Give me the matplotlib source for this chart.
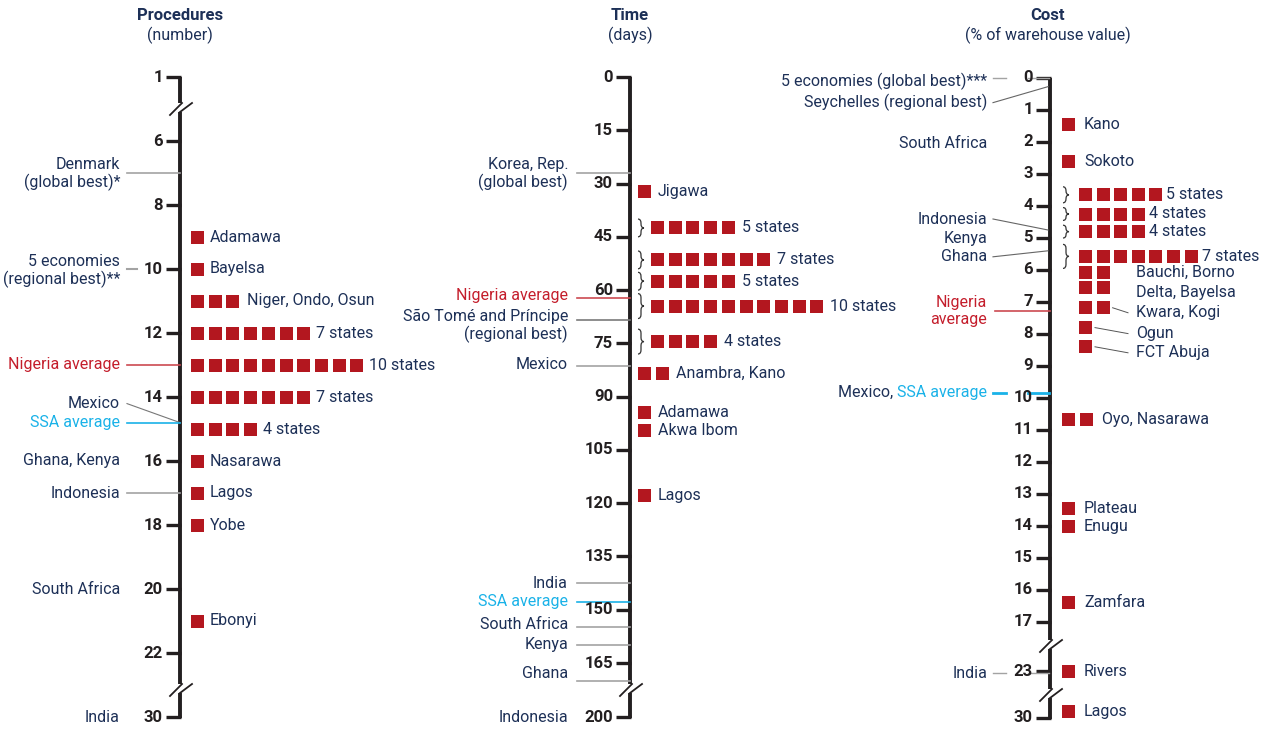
import matplotlib
matplotlib.use("Agg")
import matplotlib.pyplot as plt
from matplotlib.patches import Rectangle, PathPatch
from matplotlib.path import Path
from matplotlib import font_manager

names = {f.name for f in font_manager.fontManager.ttflist}
FONT = next(n for n in ["Liberation Sans Narrow", "Roboto", "Open Sans", "DejaVu Sans"] if n in names)
plt.rcParams['font.family'] = [FONT, 'DejaVu Sans']

# ---------------- data ----------------
# Procedures (number)
proc_ticks = [1, 6, 8, 10, 12, 14, 16, 18, 20, 22, 30]
proc_state_labels = ["Adamawa", "Bayelsa", "Niger, Ondo, Osun", "7 states", "10 states",
                     "7 states", "4 states", "Nasarawa", "Lagos", "Yobe", "Ebonyi"]
proc_state_values = [9, 10, 11, 12, 13, 14, 15, 16, 17, 18, 21]
proc_state_counts = [1, 1, 3, 7, 10, 7, 4, 1, 1, 1, 1]
proc_comp_labels = ["Denmark\n(global best)*", "5 economies\n(regional best)**", "Nigeria average",
                    "Mexico", "SSA average", "Ghana, Kenya", "Indonesia", "South Africa", "India"]
proc_comp_values = [7, 10, 13, 14.8, 14.8, 16, 17, 20, 30]

# Time (days)
time_ticks = [0, 15, 30, 45, 60, 75, 90, 105, 120, 135, 150, 165, 200]
time_state_labels = ["Jigawa", "5 states", "7 states", "5 states", "10 states", "4 states",
                     "Anambra, Kano", "Adamawa", "Akwa Ibom", "Lagos"]
time_state_low = [32.3, 40, 49, 55, 61, 71, 83.4, 94.4, 99.6, 117.8]
time_state_high = [32.3, 45, 54, 60, 68, 78, 83.4, 94.4, 99.6, 117.8]
time_state_counts = [1, 5, 7, 5, 10, 4, 2, 1, 1, 1]
time_comp_labels = ["Korea, Rep.\n(global best)", "Nigeria average", "São Tomé and Príncipe\n(regional best)",
                    "Mexico", "India", "SSA average", "South Africa", "Kenya", "Ghana", "Indonesia"]
time_comp_values = [27, 62.1, 68.4, 81.5, 142.6, 147.7, 154.9, 159.8, 170, 200]

# Cost (% of warehouse value)
cost_ticks = [0, 1, 2, 3, 4, 5, 6, 7, 8, 9, 10, 11, 12, 13, 14, 15, 16, 17, 23, 30]
cost_state_labels = ["Kano", "Sokoto", "5 states", "4 states", "4 states", "7 states",
                     "Bauchi, Borno", "Delta, Bayelsa", "Kwara, Kogi", "Ogun", "FCT Abuja",
                     "Oyo, Nasarawa", "Plateau", "Enugu", "Zamfara", "Rivers", "Lagos"]
cost_state_low = [1.44, 2.6, 3.4, 4.05, 4.6, 5.2, 6.07, 6.56, 7.18, 7.8, 8.4, 10.66, 13.45, 14.0, 16.4, 23.0, 29.1]
cost_state_high = [1.44, 2.6, 3.9, 4.45, 5.0, 5.95, 6.07, 6.56, 7.18, 7.8, 8.4, 10.66, 13.45, 14.0, 16.4, 23.0, 29.1]
cost_state_counts = [1, 1, 5, 4, 4, 7, 2, 2, 2, 1, 1, 2, 1, 1, 1, 1, 1]
cost_comp_labels = ["5 economies (global best)***", "Seychelles (regional best)", "South Africa",
                    "Indonesia", "Kenya", "Ghana", "Nigeria\naverage", "SSA average", "India"]
cost_comp_values = [0, 0.27, 2, 4.75, 5, 5.4, 7.27, 9.83, 23.3]

# ---------------- style ----------------
NAVY = '#1d3057'
TICKC = '#231f20'
RED = '#c41e2c'
REDLINE = '#cc4a52'
CYAN = '#1ab2e8'
GRAY = '#a3a3a3'
SQ = '#b3171f'
FS = 11.5
TFS = 12

fig = plt.figure(figsize=(12.67, 7.30), dpi=100)
ax = fig.add_axes([0, 0, 1, 1])
ax.set_xlim(0, 1267)
ax.set_ylim(730, 0)
ax.axis('off')


def make_scale(pieces):
    def f(v):
        for v0, y0, v1, y1 in pieces:
            if v0 <= v <= v1:
                return y0 if v1 == v0 else y0 + (v - v0) * (y1 - y0) / (v1 - v0)
        lin = [p for p in pieces if p[2] > p[0]]
        v0, y0, v1, y1 = min(lin, key=lambda p: min(abs(v - p[0]), abs(v - p[2])))
        return y0 + (v - v0) * (y1 - y0) / (v1 - v0)
    return f


def draw_axis(x, segs, breaks, ticks, scale):
    for ya, yb in segs:
        ax.plot([x, x], [ya, yb], color=TICKC, lw=2.8, solid_capstyle='butt')
    for yb in breaks:
        ax.plot([x - 10, x + 2], [yb + 7, yb - 5], color=TICKC, lw=1.3)
        ax.plot([x, x + 12], [yb + 4, yb - 5], color=TICKC, lw=1.3)
    for t in ticks:
        y = scale(t)
        ax.plot([x - 14, x + 1], [y, y], color=TICKC, lw=2.4, solid_capstyle='butt')
        ax.text(x - 17, y, str(t), ha='right', va='center', fontsize=TFS,
                fontweight='bold', color=TICKC)


def brace(x, y0, y1, w=6):
    ym = (y0 + y1) / 2
    r = min(4, (y1 - y0) / 4)
    verts = [(x, y0), (x + w / 2, y0), (x + w / 2, y0 + r),
             (x + w / 2, ym - r), (x + w / 2, ym), (x + w, ym),
             (x + w / 2, ym), (x + w / 2, ym + r),
             (x + w / 2, y1 - r), (x + w / 2, y1), (x, y1)]
    codes = [Path.MOVETO, Path.CURVE3, Path.CURVE3, Path.LINETO, Path.CURVE3, Path.CURVE3,
             Path.CURVE3, Path.CURVE3, Path.LINETO, Path.CURVE3, Path.CURVE3]
    ax.add_patch(PathPatch(Path(verts, codes), fill=False, ec='#333333', lw=0.9))


def squares(x0, y, n, size=13, step=17.7):
    for i in range(n):
        ax.add_patch(Rectangle((x0 + i * step, y - size / 2), size, size, fc=SQ, ec='none'))
    return x0 + (n - 1) * step + size


def title(x, t1, t2):
    ax.text(x, 15, t1, ha='center', va='center', fontsize=TFS, fontweight='bold', color=NAVY)
    ax.text(x, 35, t2, ha='center', va='center', fontsize=FS, color=NAVY)


# ================= Procedures =================
PX = 180
ps = make_scale([(1, 77, 1, 77), (6, 141, 22, 653), (30, 717, 30, 717)])
title(PX, "Procedures", "(number)")
draw_axis(PX, [(77, 103), (112, 684), (693, 718)], [108, 689], proc_ticks, ps)
for lab, v, n in zip(proc_state_labels, proc_state_values, proc_state_counts):
    y = ps(v)
    end = squares(PX + 11, y, n)
    ax.text(end + (8 if n == 3 else 6), y, lab, ha='left', va='center', fontsize=FS, color=NAVY)

# layout for comparators: (text offset px, line kind, colour)
proc_comp_layout = [(1, 'flat', GRAY), (2, 'short', GRAY), (0, 'flat', REDLINE), (-19, 'diag', '#777777'),
                    (0, 'flat', CYAN), (0, None, None), (0, 'flat', GRAY), (0, None, None), (0, None, None)]
for lab, v, (off, kind, lc) in zip(proc_comp_labels, proc_comp_values, proc_comp_layout):
    y = ps(v)
    tc = RED if 'Nigeria' in lab else (CYAN if 'SSA' in lab else NAVY)
    ax.text(120, y + off, lab, ha='right', va='center', fontsize=FS, color=tc, linespacing=1.15)
    if kind == 'flat':
        ax.plot([127, PX], [y, y], color=lc, lw=1.2)
    elif kind == 'short':
        ax.plot([127, 137], [y, y], color=lc, lw=1.5)
    elif kind == 'diag':
        ax.plot([127, PX], [y + off, y], color=lc, lw=0.8)

# ================= Time =================
TX = 630
ts = make_scale([(0, 77, 165, 663), (200, 717, 200, 717)])
title(TX, "Time", "(days)")
draw_axis(TX, [(77, 684), (693, 718)], [689], time_ticks, ts)
for lab, lo, hi, n in zip(time_state_labels, time_state_low, time_state_high, time_state_counts):
    y = ts((lo + hi) / 2)
    if hi > lo:
        brace(TX + 8, ts(lo), ts(hi), 6)
        end = squares(TX + 21, y, n)
    else:
        end = squares(TX + 8, y, n)
    ax.text(end + 7, y, lab, ha='left', va='center', fontsize=FS, color=NAVY)

time_comp_layout = [(1, 'flat', GRAY), (-2, 'flat', REDLINE), (9, 'flat', '#7a7a7a'), (-2, 'flat', GRAY),
                    (0, 'flat', GRAY), (0, 'flat', CYAN), (-3, 'flat', GRAY), (0, 'flat', GRAY),
                    (-7, 'flat', GRAY), (0, None, None)]
for lab, v, (off, kind, lc) in zip(time_comp_labels, time_comp_values, time_comp_layout):
    y = ts(v)
    tc = RED if 'Nigeria' in lab else (CYAN if 'SSA' in lab else NAVY)
    if '\n' in lab and 'São' in lab:
        ax.text(568, y - 1, lab, ha='right', va='top', fontsize=FS, color=tc, linespacing=1.15)
        ax.texts[-1].set_y(y - 11)
    else:
        ax.text(568, y + off, lab, ha='right', va='center', fontsize=FS, color=tc, linespacing=1.15)
    if kind == 'flat':
        ax.plot([577, TX], [y, y], color=lc, lw=1.2)

# ================= Cost =================
CX = 1050
cs = make_scale([(0, 78, 17, 622), (23, 671, 30, 718)])
title(CX - 2, "Cost", "(% of warehouse value)")
draw_axis(CX, [(78, 640), (649, 689), (698, 719)], [645, 694], cost_ticks, cs)

# label placement overrides: fixed label x, label y offset, connector
cost_fixed = {"Bauchi, Borno": (0, False), "Delta, Bayelsa": (5, False),
              "Kwara, Kogi": (5, True), "Ogun": (6, True), "FCT Abuja": (6, True)}
for lab, lo, hi, n in zip(cost_state_labels, cost_state_low, cost_state_high, cost_state_counts):
    y = cs((lo + hi) / 2)
    if hi > lo:
        brace(CX + 13, cs(lo), cs(hi), 6)
        end = squares(CX + 29, y, n, step=17.6)
        ax.text(end + 4, y, lab, ha='left', va='center', fontsize=FS, color=NAVY)
    elif lab in cost_fixed:
        off, conn = cost_fixed[lab]
        end = squares(CX + 29, y, n, step=17.6)
        ax.text(1136, y + off, lab, ha='left', va='center', fontsize=FS, color=NAVY)
        if conn:
            ax.plot([end + 3, 1128], [y, y + off], color='#555555', lw=0.7)
    else:
        end = squares(CX + 12, y, n, step=17.6)
        ax.text(end + 9, y, lab, ha='left', va='center', fontsize=FS, color=NAVY)

cost_comp_layout = [(3, 'split', GRAY), (16, 'diag', '#666666'), (1, None, None), (-11, 'diag', '#666666'),
                    (1, None, None), (6, 'diag', '#666666'), (0, 'flat', REDLINE), (0, 'split', CYAN),
                    (0, 'split', GRAY)]
fig.canvas.draw()
renderer = fig.canvas.get_renderer()
for lab, v, (off, kind, lc) in zip(cost_comp_labels, cost_comp_values, cost_comp_layout):
    y = cs(v)
    tc = RED if 'Nigeria' in lab else (CYAN if 'SSA' in lab else NAVY)
    t = ax.text(987, y + off, lab, ha='right', va='center', fontsize=FS, color=tc, linespacing=1.15)
    if 'SSA' in lab:
        bb = t.get_window_extent(renderer)
        ax.text(bb.x0, y + off, "Mexico, ", ha='right', va='center', fontsize=FS, color=NAVY)
    if kind == 'flat':
        ax.plot([995, CX], [y, y], color=lc, lw=1.2)
    elif kind == 'split':
        lw = 2 if lc == CYAN else 1
        ax.plot([993, 1006], [y, y], color=lc, lw=lw)
        ax.plot([1028, CX - 1], [y, y], color=lc, lw=lw)
    elif kind == 'diag':
        ax.plot([993, CX - 2], [y + off, y], color=lc, lw=0.8)

fig.savefig('out.png', dpi=100)
